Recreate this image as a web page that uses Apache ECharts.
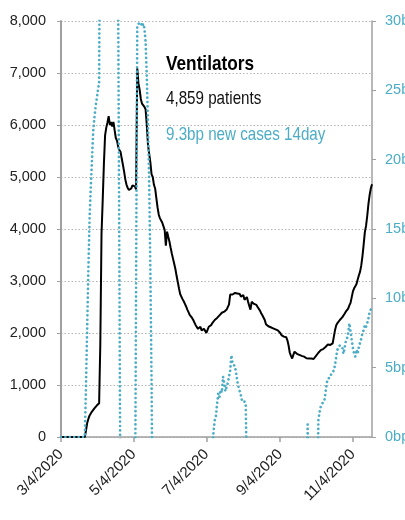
<!DOCTYPE html>
<html>
<head>
<meta charset="utf-8">
<script src="https://cdn.jsdelivr.net/npm/echarts@6/dist/echarts.min.js"></script>
<style>
  html, body { margin: 0; padding: 0; background: #fff; }
  #chart { width: 405px; height: 520px; }
</style>
</head>
<body>
<div id="chart"></div>
<script>
var FONT = '"Liberation Sans", Arial, sans-serif';
var BLUE = '#4badc6';

// daily categories, 3/4/2020 .. 11/20/2020
var startDate = new Date(2020, 2, 4);
var dayCount = 262;
var dates = [];
for (var i = 0; i < dayCount; i++) {
    var d = new Date(startDate.getFullYear(), startDate.getMonth(), startDate.getDate() + i);
    dates.push((d.getMonth() + 1) + '/' + d.getDate() + '/' + d.getFullYear());
}

var tickLabels = ['3/4/2020', '5/4/2020', '7/4/2020', '9/4/2020', '11/4/2020'];

// patients on ventilators (left axis)
var ventilators = [
    0, 0, 0, 0, 0, 0, 0, 0, 0, 0,
    0, 0, 0, 0, 0, 0, 0, 0, 0, 0,
    0, 130, 270, 350, 415, 450, 490, 520, 550, 580,
    605, 630, 650, 1800, 3900, 4550, 5250, 5800, 5950, 6050,
    6170, 6000, 6060, 5970, 6060, 5900, 5750, 5700, 5580, 5520,
    5480, 5350, 5230, 5100, 4950, 4850, 4790, 4750, 4720, 4780,
    4840, 4830, 4820, 4760, 7090, 6800, 6680, 6500, 6410, 6385,
    6350, 6300, 6000, 5620, 5450, 5280, 5050, 5000, 4850, 4780,
    4600, 4420, 4280, 4210, 4200, 4120, 4050, 3980, 3680, 3950,
    3850, 3760, 3640, 3530, 3430, 3330, 3230, 3100, 2980, 2860,
    2750, 2700, 2650, 2610, 2560, 2510, 2450, 2400, 2350, 2320,
    2290, 2250, 2200, 2150, 2120, 2080, 2060, 2120, 2050, 2025,
    2080, 2060, 2000, 2060, 2120, 2140, 2150, 2190, 2220, 2250,
    2270, 2290, 2310, 2340, 2370, 2390, 2400, 2410, 2430, 2450,
    2470, 2550, 2740, 2730, 2740, 2730, 2770, 2790, 2760, 2730,
    2750, 2700, 2690, 2730, 2640, 2670, 2690, 2600, 2520, 2450,
    2600, 2620, 2560, 2530, 2540, 2500, 2470, 2430, 2380, 2340,
    2310, 2250, 2170, 2150, 2130, 2120, 2110, 2100, 2090, 2085,
    2070, 2060, 2050, 2030, 2000, 1960, 1950, 1930, 1900, 1920,
    1860, 1760, 1620, 1560, 1510, 1580, 1640, 1620, 1600, 1610,
    1580, 1570, 1560, 1555, 1545, 1530, 1515, 1515, 1510, 1515,
    1510, 1505, 1500, 1495, 1560, 1580, 1620, 1640, 1670, 1680,
    1690, 1710, 1730, 1760, 1780, 1770, 1770, 1775, 1800, 1830,
    2060, 2150, 2190, 2220, 2250, 2280, 2300, 2330, 2370, 2410,
    2440, 2470, 2530, 2580, 2690, 2800, 2860, 2900, 2940, 3030,
    3110, 3180, 3300, 3480, 3700, 3940, 4060, 4250, 4480, 4650,
    4780, 4859
];

// new cases, basis points over 14 days (right axis); values off the 0-30 scale get clipped
var newCasesBp = [
    0, 0, 0, 0, 0, 0, 0, 0, 0, 0,
    0, 0, 0, 0, 0, 0, 0, 0, 0, 0,
    0, 3.8, 8, 12.2, 15.8, 18, 20, 22, 23, 23.8,
    24.4, 25, 25.6, 45, null, null, null, null, null, null,
    null, null, null, null, null, null, null, 45, 31, 12,
    -8, null, null, null, null, null, null, null, null, null,
    null, null, -8, -8, 29.6, 29.8, 29.7, 29.9, 29.6, 29.8,
    29.5, 28.5, 26, 22.5, 18.4, 12, 4, -8, null, null,
    null, null, null, null, null, null, null, null, null, null,
    null, null, null, null, null, null, null, null, null, null,
    null, null, null, null, null, null, null, null, null, null,
    null, null, null, null, null, null, null, null, null, null,
    null, null, null, null, null, null, -8, -1, 0.4, 1.2,
    1.5, 2.4, 3.15, 2.9, 3.4, 3.2, 4.35, 3.9, 3.3, 3.3,
    3.9, 4.35, 4.8, 5.9, 5.3, 5.3, 5.1, 4.6, 4.0, 3.6,
    3.5, 3.0, 2.55, 2.5, 2.55, 2.4, -3, -8, null, null,
    null, null, null, null, null, null, null, null, null, null,
    null, null, null, null, null, null, null, null, null, null,
    null, null, null, null, null, null, null, null, null, null,
    null, null, null, null, null, null, null, null, null, null,
    null, null, null, null, null, null, -8, 0.9, -8, null,
    null, null, null, null, -8, -6, 1.2, 1.8, 2.2, 2.4,
    2.5, 2.6, 3.2, 3.9, 4.2, 4.1, 4.3, 4.6, 4.6, 4.8,
    5.2, 5.8, 6.3, 6.4, 6.6, 6.7, 6.5, 6.0, 6.4, 6.9,
    7.1, 7.5, 8.2, 7.6, 7.0, 6.4, 6.0, 5.8, 6.3, 6.0,
    6.5, 6.6, 7.1, 7.5, 7.7, 8.1, 7.95, 8.2, 8.55, 9.0,
    9.2, 9.3
];

var showTick = function (index, value) {
    return tickLabels.indexOf(value) !== -1;
};

var dom = document.getElementById('chart');
var myChart = echarts.init(dom);
var option = {
    animation: false,
    grid: {left: 61, right: 33, top: 21, bottom: 83, containLabel: false, outerBoundsMode: 'none'},
    xAxis: {
        type: 'category',
        boundaryGap: false,
        data: dates,
        axisLine: {lineStyle: {color: '#a0a0a0', width: 1.5}},
        axisTick: {show: true, interval: showTick, length: 5, lineStyle: {color: '#a0a0a0', width: 1.5}},
        axisLabel: {
            interval: showTick,
            rotate: 45,
            margin: 15,
            color: '#222',
            fontFamily: FONT,
            fontSize: 15
        },
        splitLine: {show: false}
    },
    yAxis: [
        {
            type: 'value',
            min: 0,
            max: 8000,
            interval: 1000,
            axisLine: {show: true, lineStyle: {color: '#a0a0a0', width: 2}},
            axisTick: {show: true, length: 4, lineStyle: {color: '#a0a0a0'}},
            axisLabel: {
                margin: 15,
                color: '#222',
                fontFamily: FONT,
                fontSize: 14.5,
                formatter: function (v) { return v.toLocaleString('en-US'); }
            },
            splitLine: {show: true, lineStyle: {color: '#b4b4b4', type: [1.5, 2], width: 1}}
        },
        {
            type: 'value',
            min: 0,
            max: 30,
            interval: 5,
            axisLine: {show: true, lineStyle: {color: '#a0a0a0', width: 1.5}},
            axisTick: {show: true, length: 4, lineStyle: {color: '#a0a0a0'}},
            axisLabel: {
                margin: 13,
                color: BLUE,
                fontFamily: FONT,
                fontSize: 14.5,
                formatter: '{value}bp'
            },
            splitLine: {show: false}
        }
    ],
    graphic: [
        {type: 'text', x: 166, y: 64, scaleX: 0.82, style: {text: 'Ventilators', font: 'bold 21px ' + FONT, fill: '#000', verticalAlign: 'middle'}},
        {type: 'text', x: 166, y: 99, scaleX: 0.82, style: {text: '4,859 patients', font: '18.5px ' + FONT, fill: '#111', verticalAlign: 'middle'}},
        {type: 'text', x: 166, y: 135, scaleX: 0.82, style: {text: '9.3bp new cases 14day', font: '18.5px ' + FONT, fill: BLUE, verticalAlign: 'middle'}}
    ],
    series: [
        {
            name: 'ventilators',
            type: 'line',
            data: ventilators,
            yAxisIndex: 0,
            symbol: 'none',
            lineStyle: {color: '#000', width: 2}
        },
        {
            name: 'new cases',
            type: 'line',
            data: newCasesBp,
            yAxisIndex: 1,
            symbol: 'none',
            clip: true,
            lineStyle: {color: BLUE, width: 2.7, type: [0.01, 4.4], cap: 'round'}
        }
    ]
};
myChart.setOption(option, true);

window.onresize = function () {
    myChart.resize();
};
</script>
</body>
</html>
